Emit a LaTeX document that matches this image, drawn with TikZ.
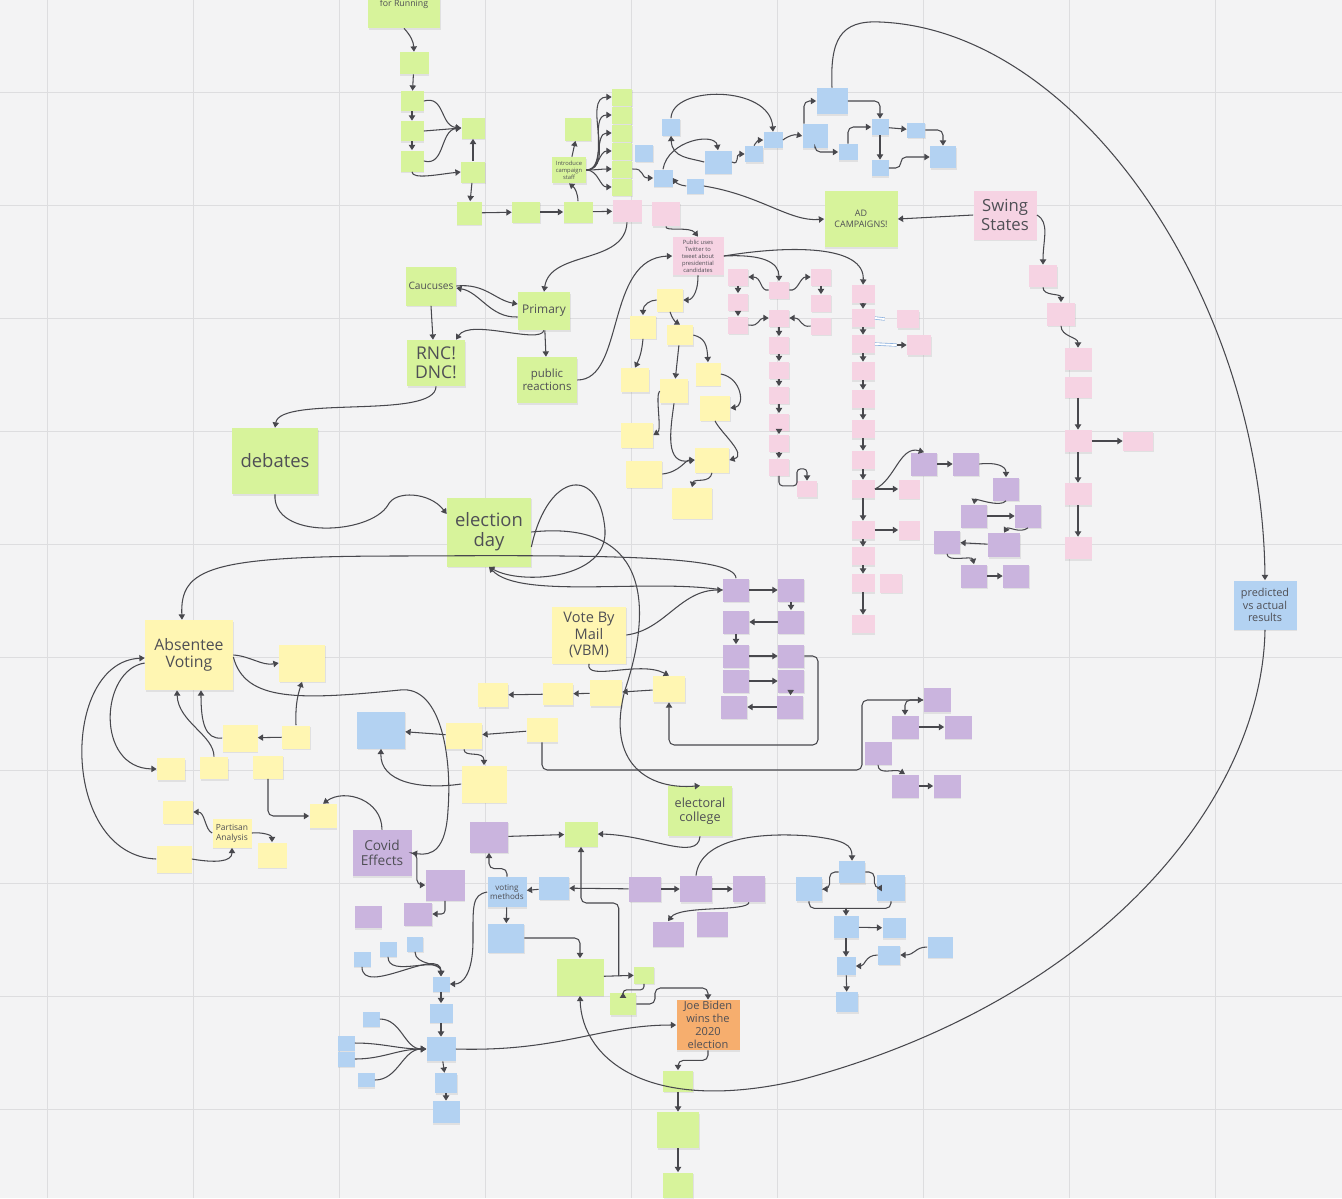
\documentclass[tikz,border=0pt]{standalone}
\usepackage{fontspec}
\setmainfont{Open Sans}
\usetikzlibrary{arrows.meta,calc,shadows}
\definecolor{boardbg}{HTML}{F3F3F4}
\definecolor{gridgray}{HTML}{DDDDDF}
\definecolor{notegreen}{HTML}{D7F39B}
\definecolor{noteyellow}{HTML}{FFF6B2}
\definecolor{notepink}{HTML}{F6D3E3}
\definecolor{noteblue}{HTML}{B3D2F2}
\definecolor{notepurple}{HTML}{CAB4DE}
\definecolor{noteorange}{HTML}{F6AE6E}
\definecolor{notetext}{HTML}{4F4F55}
\definecolor{linegray}{HTML}{48484D}
\definecolor{dblblue}{HTML}{7FA8DA}
\begin{document}
\begin{tikzpicture}[x=0.02cm, y=-0.02cm,
    note/.style={inner sep=0pt, align=center, text=notetext,
      drop shadow={opacity=0.16, shadow xshift=0.4pt, shadow yshift=-0.9pt}},
    sz/.style 2 args={minimum width=#1*0.02cm, minimum height=#2*0.02cm},
    fs/.style 2 args={font=\fontsize{#1}{#2}\selectfont},
    grn/.style={note, fill=notegreen},
    yel/.style={note, fill=noteyellow},
    pnk/.style={note, fill=notepink},
    blu/.style={note, fill=noteblue},
    pur/.style={note, fill=notepurple},
    org/.style={note, fill=noteorange},
    arr/.style={draw=linegray, line width=0.6pt, -{Triangle[width=3.6pt,length=3pt]}},
    ln/.style={draw=linegray, line width=0.6pt},
    dbl/.style={draw=dblblue, double=white, double distance=1.1pt, line width=0.35pt},
    gridline/.style={draw=gridgray, line width=0.4pt}]
\useasboundingbox (0,0) rectangle (1342,1198);
\clip (0,0) rectangle (1342,1198);
\fill[boardbg] (0,0) rectangle (1342,1198);
% board grid
\foreach \gx in {47,193,...,1215} \draw[gridline] (\gx,0) -- (\gx,1198);
\foreach \gy in {92,205,...,1109} \draw[gridline] (0,\gy) -- (1342,\gy);

% ---- start of the race
\node (run) at (404,4) [grn, sz={72}{48}, fs={5}{6}] {for Running};
\node (n1) at (414,63) [grn, sz={29}{22}] {};
\node (g1) at (412,101) [grn, sz={23}{20}] {};
\node (g2) at (412,131) [grn, sz={23}{20}] {};
\node (g3) at (412,161) [grn, sz={23}{21}] {};
\node (h1) at (473,128) [grn, sz={23}{21}] {};
\node (h2) at (473,172) [grn, sz={24}{21}] {};
\node (h3) at (469,213) [grn, sz={25}{23}] {};
\node (t1) at (526,212) [grn, sz={28}{21}] {};
\node (t2) at (578,212) [grn, sz={29}{21}] {};
\node (pk1) at (627,211) [pnk, sz={29}{22}] {};
\node (pk2) at (666,214) [pnk, sz={28}{24}] {};
\node (staff) at (569,170) [grn, sz={34}{26}, fs={3.3}{4}] {Introduce\\campaign\\staff};
\node (sq) at (578,129) [grn, sz={26}{23}] {};
\foreach \i/\yy in {1/97,2/115,3/133,4/151,5/169,6/187}
  \node (col\i) at (622,\yy) [grn, sz={20}{17}] {};

% ---- ads (blue)
\node (b1) at (671,127) [blu, sz={18}{17}] {};
\node (b2) at (644,153) [blu, sz={18}{17}] {};
\node (b3) at (663,178) [blu, sz={19}{17}] {};
\node (b4) at (695,186) [blu, sz={17}{15}] {};
\node (b5) at (718,162) [blu, sz={27}{23}] {};
\node (b6) at (754,154) [blu, sz={18}{16}] {};
\node (b7) at (773,140) [blu, sz={19}{16}] {};
\node (b8) at (815,136) [blu, sz={25}{24}] {};
\node (b9) at (832,101) [blu, sz={31}{26}] {};
\node (b10) at (848,152) [blu, sz={19}{16}] {};
\node (b11) at (880,127) [blu, sz={17}{16}] {};
\node (b12) at (880,168) [blu, sz={17}{16}] {};
\node (b13) at (916,130) [blu, sz={18}{15}] {};
\node (b14) at (943,157) [blu, sz={26}{22}] {};
\node (ad) at (861,219) [grn, sz={73}{56}, fs={5.1}{6.6}] {AD\\CAMPAIGNS!};
\node (swing) at (1005,215) [pnk, sz={63}{49}, fs={9.5}{10.5}] {Swing\\States};
\node (w1) at (1043,276) [pnk, sz={28}{22}] {};
\node (w2) at (1061,314) [pnk, sz={28}{23}] {};
\node (w3) at (1078,359) [pnk, sz={27}{22}] {};
\node (w4) at (1078,387) [pnk, sz={27}{21}] {};
\node (w5) at (1078,441) [pnk, sz={27}{22}] {};
\node (w6) at (1138,441) [pnk, sz={30}{19}] {};
\node (w7) at (1078,494) [pnk, sz={27}{22}] {};
\node (w8) at (1078,548) [pnk, sz={27}{22}] {};
\node (pred) at (1265,605) [blu, sz={63}{49}, fs={6.2}{7.2}] {predicted\\vs actual\\results};

% ---- primaries
\node (cauc) at (431,286) [grn, sz={50}{39}, fs={5.8}{7}] {Caucuses};
\node (prim) at (544,311) [grn, sz={52}{38}, fs={6.8}{8}] {Primary};
\node (rnc) at (436,363) [grn, sz={58}{46}, fs={10}{11}] {RNC!\\DNC!};
\node (pubr) at (547,380) [grn, sz={60}{46}, fs={6.5}{7.4}] {public\\reactions};
\node (deb) at (275,461) [grn, sz={86}{66}, fs={10.5}{11.5}] {debates};
\node (eday) at (489,532) [grn, sz={84}{69}, fs={10.5}{11.4}] {election\\day};
\node (tw) at (698,256) [pnk, sz={51}{38}, fs={3.3}{4}] {Public uses\\Twitter to\\tweet about\\presidential\\candidates};

% ---- reactions (yellow)
\node (y1) at (670,300) [yel, sz={26}{23}] {};
\node (y2) at (643,327) [yel, sz={26}{23}] {};
\node (y3) at (680,335) [yel, sz={26}{20}] {};
\node (y4) at (635,380) [yel, sz={28}{24}] {};
\node (y5) at (674,391) [yel, sz={28}{24}] {};
\node (y6) at (708,374) [yel, sz={25}{23}] {};
\node (y7) at (715,408) [yel, sz={30}{25}] {};
\node (y8) at (637,435) [yel, sz={32}{25}] {};
\node (y9) at (712,460) [yel, sz={34}{25}] {};
\node (y10) at (644,474) [yel, sz={36}{27}] {};
\node (y11) at (692,503) [yel, sz={40}{31}] {};

% ---- pink columns
\foreach \i/\yy in {1/277,2/302,3/325}
  \node (pa\i) at (738,\yy) [pnk, sz={20}{17}] {};
\foreach \i/\yy in {1/290,2/318,3/345,4/370,5/395,6/422,7/443,8/467}
  \node (pb\i) at (779,\yy) [pnk, sz={20}{17}] {};
\node (pbx) at (807,489) [pnk, sz={20}{16}] {};
\foreach \i/\yy in {1/277,2/303,3/326}
  \node (pc\i) at (821,\yy) [pnk, sz={20}{17}] {};
\foreach \i/\yy in {1/294,2/318,3/344,4/371,5/399,6/429,7/460,8/489,9/530,10/556,11/583,12/624}
  \node (pd\i) at (863,\yy) [pnk, sz={23}{18}] {};
\node (ps1) at (908,319) [pnk, sz={22}{18}] {};
\node (ps2) at (919,345) [pnk, sz={24}{20}] {};
\node (ps3) at (909,489) [pnk, sz={21}{19}] {};
\node (ps4) at (909,530) [pnk, sz={21}{19}] {};
\node (ps5) at (891,583) [pnk, sz={22}{19}] {};

% ---- purple flows
\node (p1) at (924,464) [pur, sz={26}{23}] {};
\node (p2) at (966,464) [pur, sz={26}{23}] {};
\node (p3) at (1006,489) [pur, sz={26}{23}] {};
\node (p4) at (974,516) [pur, sz={26}{23}] {};
\node (p5) at (1028,516) [pur, sz={26}{23}] {};
\node (p6) at (1004,545) [pur, sz={32}{24}] {};
\node (p7) at (947,542) [pur, sz={26}{23}] {};
\node (p8) at (974,576) [pur, sz={26}{23}] {};
\node (p9) at (1016,576) [pur, sz={26}{23}] {};
\node (q1) at (736,590) [pur, sz={26}{23}] {};
\node (q2) at (791,590) [pur, sz={26}{23}] {};
\node (q3) at (736,622) [pur, sz={26}{23}] {};
\node (q4) at (791,622) [pur, sz={26}{23}] {};
\node (q5) at (736,656) [pur, sz={26}{23}] {};
\node (q6) at (791,656) [pur, sz={26}{23}] {};
\node (q7) at (736,681) [pur, sz={26}{23}] {};
\node (q8) at (791,681) [pur, sz={26}{23}] {};
\node (q9) at (734,707) [pur, sz={26}{23}] {};
\node (q10) at (790,707) [pur, sz={26}{23}] {};
\node (r1) at (937,700) [pur, sz={27}{24}] {};
\node (r2) at (905,727) [pur, sz={27}{23}] {};
\node (r3) at (958,727) [pur, sz={27}{23}] {};
\node (r4) at (878,753) [pur, sz={27}{23}] {};
\node (r5) at (905,786) [pur, sz={27}{23}] {};
\node (r6) at (947,786) [pur, sz={27}{23}] {};

% ---- voting (yellow)
\node (vbm) at (589,635) [yel, sz={74}{57}, fs={8.3}{9.3}] {Vote By\\Mail\\(VBM)};
\node (abs) at (189,655) [yel, sz={88}{70}, fs={9}{10}] {Absentee\\Voting};
\node (v1) at (669,689) [yel, sz={32}{26}] {};
\node (v2) at (606,693) [yel, sz={32}{26}] {};
\node (v3) at (558,694) [yel, sz={30}{22}] {};
\node (v4) at (493,695) [yel, sz={30}{24}] {};
\node (v5) at (542,730) [yel, sz={31}{24}] {};
\node (v6) at (464,736) [yel, sz={36}{26}] {};
\node (v7) at (484,784) [yel, sz={45}{37}] {};
\node (bl1) at (381,730) [blu, sz={48}{37}] {};
\node (a1) at (302,663) [yel, sz={46}{37}] {};
\node (a2) at (240,738) [yel, sz={35}{27}] {};
\node (a3) at (296,737) [yel, sz={28}{23}] {};
\node (a4) at (171,769) [yel, sz={28}{22}] {};
\node (a5) at (214,768) [yel, sz={28}{22}] {};
\node (a6) at (268,767) [yel, sz={30}{23}] {};
\node (a7) at (323,816) [yel, sz={27}{24}] {};
\node (a8) at (178,812) [yel, sz={30}{23}] {};
\node (a9) at (174,859) [yel, sz={35}{27}] {};
\node (a10) at (272,855) [yel, sz={29}{25}] {};
\node (part) at (232,833) [yel, sz={39}{29}, fs={4.8}{5.8}] {Partisan\\Analysis};

% ---- covid, methods, results
\node (covid) at (382,853) [pur, sz={59}{46}, fs={7.8}{8.8}] {Covid\\Effects};
\node (ecol) at (700,811) [grn, sz={64}{50}, fs={7.2}{8.2}] {electoral\\college};
\node (c1) at (445,885) [pur, sz={39}{31}] {};
\node (c2) at (418,914) [pur, sz={28}{23}] {};
\node (c3) at (368,917) [pur, sz={27}{22}] {};
\node (pm1) at (489,837) [pur, sz={38}{31}] {};
\node (gn1) at (581,834) [grn, sz={33}{25}] {};
\node (vm) at (507,892) [blu, sz={39}{30}, fs={4.6}{5.6}] {voting\\methods};
\node (bn1) at (554,888) [blu, sz={30}{23}] {};
\node (pr1) at (645,889) [pur, sz={32}{25}] {};
\node (pr2) at (696,889) [pur, sz={32}{26}] {};
\node (pr3) at (749,889) [pur, sz={32}{26}] {};
\node (pr4) at (712,924) [pur, sz={31}{25}] {};
\node (pr5) at (668,934) [pur, sz={31}{25}] {};
\node (bn2) at (506,938) [blu, sz={36}{29}] {};
\node (gn2) at (580,977) [grn, sz={47}{37}] {};
\node (gn3) at (644,975) [grn, sz={20}{17}] {};
\node (gn4) at (623,1004) [grn, sz={26}{22}] {};
\node (biden) at (708,1025) [org, sz={63}{50}, fs={6.3}{7.4}] {Joe Biden\\wins the\\2020\\election};
\node (gb1) at (678,1081) [grn, sz={30}{21}] {};
\node (gb2) at (678,1130) [grn, sz={42}{36}] {};
\node (gb3) at (678,1185) [grn, sz={30}{25}] {};
\node (bs1) at (362,959) [blu, sz={17}{15}] {};
\node (bs2) at (388,949) [blu, sz={17}{15}] {};
\node (bs3) at (415,944) [blu, sz={16}{15}] {};
\node (bc1) at (441,984) [blu, sz={17}{15}] {};
\node (bc2) at (441,1013) [blu, sz={23}{19}] {};
\node (bc3) at (441,1049) [blu, sz={29}{24}] {};
\node (bc4) at (446,1083) [blu, sz={22}{20}] {};
\node (bc5) at (446,1112) [blu, sz={27}{22}] {};
\node (bl2) at (371,1019) [blu, sz={17}{15}] {};
\node (bl3) at (346,1043) [blu, sz={17}{15}] {};
\node (bl4) at (346,1059) [blu, sz={17}{15}] {};
\node (bl5) at (366,1080) [blu, sz={17}{14}] {};
\node (s1) at (852,872) [blu, sz={26}{22}] {};
\node (s2) at (809,889) [blu, sz={26}{24}] {};
\node (s3) at (891,888) [blu, sz={28}{26}] {};
\node (s4) at (846,927) [blu, sz={25}{22}] {};
\node (s5) at (894,928) [blu, sz={23}{20}] {};
\node (s6) at (889,955) [blu, sz={22}{19}] {};
\node (s7) at (940,947) [blu, sz={25}{21}] {};
\node (s8) at (846,966) [blu, sz={19}{18}] {};
\node (s9) at (847,1002) [blu, sz={22}{20}] {};

% ---- connectors: start of the race
\draw[arr] (run.south) to[bend left=20] (n1.north);
\foreach \a/\b in {n1/g1, g1/g2, g2/g3, h2/h1, h2/h3, h3/t1, t1/t2, t2/pk1, staff/sq}
  \draw[arr] (\a) -- (\b);
\draw[arr] (g1.east) .. controls (445,95) and (440,126) .. (h1.west);
\draw[arr] (g2.east) -- (h1.west);
\draw[arr] (g3.east) .. controls (445,167) and (440,130) .. (h1.west);
\draw[arr] (g3.south) .. controls (412,180) and (440,174) .. (h2.west);
\draw[arr] (t2.north) to[bend right=25] (staff.south);
\foreach \i in {1,...,6}
  \draw[arr] (staff.east) to[out=0,in=180] (col\i.west);
\draw[arr] (col5.east) .. controls (645,168) and (640,178) .. (b3.west);
\draw[arr] (pk1.south) .. controls (625,265) and (550,250) .. (prim.north);
\draw[arr] (pk2.south) .. controls (664,232) and (690,226) .. (tw.north);

% ---- connectors: ads
\draw[arr] (b1.north) .. controls (672,85) and (770,85) .. (b7.north);
\draw[arr] (b5.west) .. controls (690,158) and (672,158) .. (b1.south);
\draw[arr] (b3.north) .. controls (668,140) and (715,132) .. (b5.north);
\draw[arr] (b4.west) to[bend left=25] (b3.east);
\draw[arr] (b4.east) .. controls (760,195) and (790,222) .. (ad.west);
\draw[arr] (b5.east) .. controls (740,166) and (735,154) .. (b6.west);
\draw[arr] (b6.north) to[bend left=30] (b7.west);
\draw[arr] (b7.east) to[bend left=25] (b8.west);
\draw[arr, rounded corners=3pt] ($(b8.north)+(-11,0)$) |- (b9.west);
\draw[arr, rounded corners=3pt] (b9.east) -| (b11.north);
\draw[arr, rounded corners=3pt] (b8.south) |- (b10.west);
\draw[arr, rounded corners=3pt] (b10.north) |- (b11.west);
\draw[arr] (b11) -- (b12);
\draw[arr] (b11) -- (b13);
\draw[arr, rounded corners=3pt] (b13.east) -| (b14.north);
\draw[arr, rounded corners=3pt] (b12.east) -- ++(12,0) |- (b14.west);
\draw[ln, -{Triangle[width=3.6pt,length=3pt]}] (b9.north) .. controls (830,40) and (840,20) .. (880,22)
  .. controls (1080,30) and (1262,300) .. (pred.north);
\draw[arr] (pred.south) .. controls (1262,800) and (1100,1000) .. (800,1080)
  .. controls (650,1115) and (582,1060) .. (gn2.south);
\draw[arr] (swing.west) -- (ad.east);
\draw[arr] (swing.east) .. controls (1050,222) and (1043,240) .. (w1.north);
\draw[arr] (w1.south) to[out=-90,in=90] (w2.north);
\draw[arr] (w2.south) to[out=-90,in=90] (w3.north);
\foreach \a/\b in {w4/w5, w5/w6, w5/w7, w7/w8}
  \draw[arr] (\a) -- (\b);

% ---- connectors: primaries
\draw[arr] (cauc.east) .. controls (485,283) and (495,300) .. ($(prim.west)+(0,-7)$);
\draw[arr] ($(prim.west)+(0,6)$) .. controls (490,318) and (480,292) .. ($(cauc.east)+(0,2)$);
\draw[arr] (cauc.south) -- ($(rnc.north)+(-3,0)$);
\draw[arr] (prim.south) .. controls (540,345) and (470,318) .. ($(rnc.north)+(20,0)$);
\draw[arr] (prim) -- (pubr);
\draw[arr] (pubr.east) .. controls (625,380) and (605,258) .. (tw.west);
\draw[arr] (rnc.south) .. controls (436,420) and (280,395) .. (deb.north);
\draw[arr] (deb.south) .. controls (272,540) and (370,535) .. (388,505)
  .. controls (395,490) and (430,492) .. ($(eday.west)+(0,-18)$);
\draw[arr] ($(eday.east)+(0,15)$) .. controls (548,470) and (600,465) .. (605,530)
  .. controls (608,580) and (520,585) .. (eday.south);
\draw[arr] (eday.east) .. controls (645,520) and (655,600) .. (625,690)
  .. controls (605,765) and (650,790) .. (ecol.north);
\draw[arr] (q1.north) .. controls (735,555) and (600,555) .. (400,556)
  .. controls (210,556) and (180,568) .. ($(abs.north)+(-7,0)$);
\draw[arr] (q1.west) .. controls (650,578) and (520,600) .. (eday.south);

% ---- connectors: reactions
\draw[arr] (tw.south) .. controls (698,296) and (690,300) .. (y1.east);
\draw[arr] (y1.west) .. controls (650,300) and (643,305) .. (y2.north);
\draw[arr] (y1.south) to[bend right=20] (y3.north);
\draw[arr] (y2.south) to[bend left=10] (y4.north);
\draw[arr] (y3) -- (y5);
\draw[arr] (y3.east) .. controls (705,338) and (707,345) .. (y6.north);
\draw[arr] (y6.east) .. controls (742,378) and (745,406) .. (y7.east);
\draw[arr] (y5.west) .. controls (655,395) and (662,430) .. (y8.east);
\draw[arr] (y5.south) .. controls (670,432) and (665,465) .. (y9.west);
\draw[arr] (y10.east) .. controls (680,472) and (685,460) .. (y9.west);
\draw[arr] (y7.south) .. controls (720,432) and (748,455) .. (y9.east);
\draw[arr] (y9.south) .. controls (710,484) and (694,478) .. (y11.north);

% ---- connectors: pink columns
\draw[arr] (tw.east) .. controls (762,254) and (779,262) .. (pb1.north);
\draw[arr] (tw.east) .. controls (790,245) and (865,245) .. (pd1.north);
\draw[arr] (pb1.west) .. controls (760,292) and (762,277) .. (pa1.east);
\draw[arr] (pb1.east) .. controls (798,292) and (800,277) .. (pc1.west);
\draw[arr] (pa3.east) .. controls (760,327) and (758,318) .. (pb2.west);
\draw[arr] (pc3.west) .. controls (800,328) and (802,318) .. (pb2.east);
\foreach \a/\b in {pa1/pa2, pa2/pa3, pc1/pc2, pb2/pb3, pb3/pb4, pb4/pb5, pb5/pb6, pb6/pb7, pb7/pb8}
  \draw[arr] (\a) -- (\b);
\draw[arr, rounded corners=2pt] (pb8.south) -- ++(0,10) -- ++(18,0) -- ++(0,-17) -| (pbx.north);
\foreach \a/\b in {pd1/pd2, pd2/pd3, pd3/pd4, pd4/pd5, pd5/pd6, pd6/pd7, pd7/pd8, pd8/pd9, pd9/pd10, pd10/pd11, pd11/pd12, pd8/ps3, pd9/ps4}
  \draw[arr] (\a) -- (\b);
\draw[dbl] (pd2.east) -- ($(ps1.west)+(-12,0)$);
\draw[dbl] (pd3.east) -- ($(ps2.west)+(-10,0)$);
\draw[arr] ($(ps2.west)+(-10,0)$) -- (ps2.west);
\draw[arr] (pd8.east) .. controls (895,480) and (900,445) .. (p1.north);

% ---- connectors: purple flows
\foreach \a/\b in {p1/p2, p4/p5, p6/p7, p8/p9, q1/q2, q2/q4, q4/q3, q3/q5, q5/q6, q7/q8, q8/q10, q10/q9, r2/r3, r5/r6}
  \draw[arr] (\a) -- (\b);
\draw[arr] (p2.east) .. controls (996,462) and (1006,466) .. (p3.north);
\draw[arr] (p3.south) .. controls (1000,508) and (975,498) .. (p4.north);
\draw[arr] (p5.south) .. controls (1020,534) and (1008,526) .. (p6.north);
\draw[arr] (p7.south) .. controls (947,563) and (972,555) .. (p8.north);
\draw[arr, rounded corners=3pt] (r1.west) -| (r2.north);
\draw[arr] (r4.south) .. controls (878,776) and (895,768) .. (r5.north);
\draw[arr, rounded corners=3pt] (q6.east) -- (818,656) -- (818,745) -| (v1.south);

% ---- connectors: voting
\draw[arr] (vbm.east) .. controls (665,630) and (680,590) .. (q1.west);
\draw[arr] (vbm.south) .. controls (585,682) and (640,660) .. (v1.north);
\foreach \a/\b in {v1/v2, v2/v3, v3/v4, v5/v6, v6/bl1, a3/a2}
  \draw[arr] (\a) -- (\b);
\draw[arr, rounded corners=3pt] (v5.south) |- (862,770) |- (r1.west);
\draw[arr] (v6.south) .. controls (464,758) and (484,750) .. (v7.north);
\draw[arr] (v7.west) .. controls (420,790) and (380,782) .. (bl1.south);
\draw[arr] (abs.east) .. controls (250,656) and (262,666) .. (a1.west);
\draw[arr] ($(abs.east)+(0,2)$) .. controls (245,702) and (300,700) .. (400,690)
  .. controls (442,685) and (452,760) .. (448,810) .. controls (446,850) and (432,856) .. (covid.east);
\draw[arr] (a3.north) to[bend left=10] (a1.south);
\draw[arr] (a5.north) .. controls (214,735) and (178,722) .. ($(abs.south)+(-12,0)$);
\draw[arr] (a2.west) .. controls (205,740) and (201,722) .. ($(abs.south)+(12,0)$);
\draw[arr, rounded corners=3pt] (a6.south) |- (a7.west);
\draw[arr] (covid.north) .. controls (382,800) and (345,788) .. (a7.north);
\draw[arr] (part.west) .. controls (205,830) and (205,812) .. (a8.east);
\draw[arr] (part.east) .. controls (262,832) and (272,835) .. (a10.north);
\draw[arr] (a9.east) .. controls (215,863) and (232,862) .. (part.south);
\draw[arr] (a9.west) .. controls (60,855) and (60,662) .. ($(abs.west)+(0,3)$);
\draw[arr] ($(abs.west)+(0,8)$) .. controls (100,670) and (95,768) .. (a4.west);

% ---- connectors: methods and results
\draw[arr, rounded corners=3pt] (covid.east) -- ++(5,0) |- (c1.west);
\draw[arr, rounded corners=2pt] (c1.south) |- (c2.east);
\draw[arr, rounded corners=3pt] (vm.north) -- ++(0,-8) -| (pm1.south);
\draw[arr] (pm1) -- (gn1);
\draw[arr] (ecol.south) .. controls (698,862) and (650,835) .. (gn1.east);
\foreach \a/\b in {bn1/vm, pr1/bn1, pr1/pr2, pr2/pr3, vm/bn2, bc1/bc2, bc2/bc3, bc3/bc4, bc4/bc5, gb1/gb2, gb2/gb3, gn2/gn3}
  \draw[arr] (\a) -- (\b);
\draw[arr] (pr2.north) .. controls (700,838) and (760,832) .. (810,836)
  .. controls (845,840) and (852,845) .. (s1.north);
\draw[arr] (pr3.south) .. controls (748,912) and (680,905) .. (pr5.north);
\draw[arr, rounded corners=3pt] ($(gn2.east)!0.5!(gn3.west)$) |- (581,903) -- (gn1.south);
\draw[arr, rounded corners=2pt] (gn3.south) -- ++(0,6) -| (gn4.north);
\draw[arr, rounded corners=3pt] (gn4.east) -| (655,988) -| (biden.north);
\draw[arr] (bc3.east) .. controls (560,1052) and (600,1025) .. (biden.west);
\foreach \s in {bl2,bl3,bl4,bl5}
  \draw[arr] (\s.east) to[out=0,in=180] (bc3.west);
\foreach \s in {bs1,bs2,bs3}
  \draw[arr] (\s.south) to[out=-90,in=90] (bc1.north);
\draw[arr] (vm.west) .. controls (472,895) and (473,905) .. (473,940)
  .. controls (473,975) and (462,984) .. (bc1.east);
\draw[arr, rounded corners=3pt] (bn2.east) -| (gn2.north);
\draw[arr, rounded corners=3pt] (biden.south) -- ++(0,10) -| (gb1.north);

% ---- connectors: blue results
\draw[arr, rounded corners=3pt] (s1.west) -- ++(-9,0) |- (s2.east);
\draw[arr, rounded corners=3pt] (s1.east) -- ++(9,0) |- (s3.west);
\draw[ln, rounded corners=3pt] (s2.south) -- ++(0,7) -| (s3.south);
\draw[arr] ($(s4.north)+(0,-8)$) -- (s4.north);
\foreach \a/\b in {s4/s5, s4/s8, s8/s9}
  \draw[arr] (\a) -- (\b);
\draw[arr] (s7.west) .. controls (915,947) and (915,955) .. (s6.east);
\draw[arr] (s6.west) .. controls (865,955) and (865,966) .. (s8.east);
\end{tikzpicture}
\end{document}
